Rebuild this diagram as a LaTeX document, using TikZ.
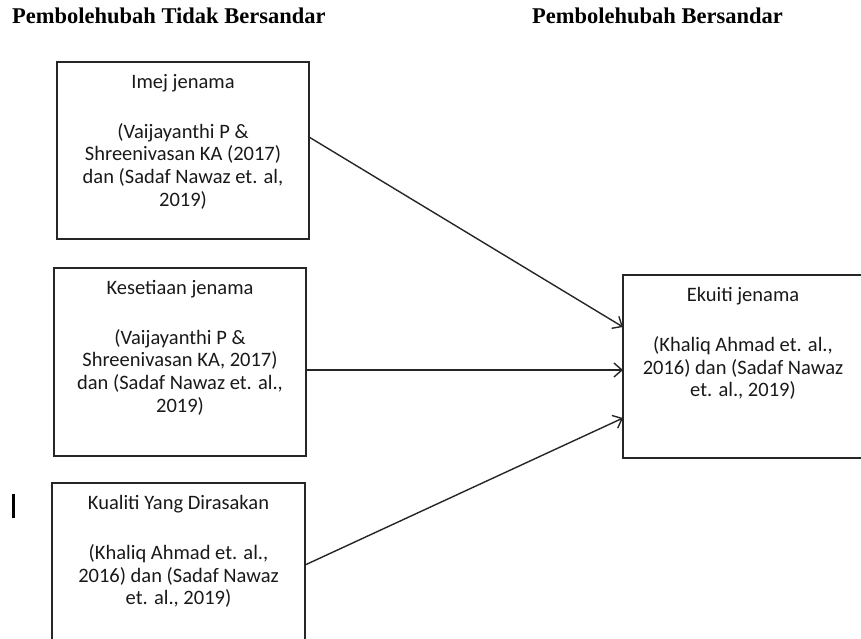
\documentclass[tikz,border=0pt]{standalone}
\usepackage{fontspec}
\setmainfont{Carlito}
\newfontfamily\headfont{Liberation Serif}
\usepackage{tikz}
\usetikzlibrary{arrows.meta,positioning}

\begin{document}
\begin{tikzpicture}[
    x=1pt, y=-1pt,
    box/.style={rectangle, draw=black!85, line width=1.6pt, outer sep=0pt, inner sep=0pt},
    boxtext/.style={align=center, inner sep=0pt, text=black!90, font=\fontsize{20.5}{22.8}\selectfont},
    heading/.style={anchor=base west, inner sep=0pt, font=\headfont\bfseries\fontsize{22.5}{26}\selectfont},
    arrow/.style={-{Straight Barb[length=8pt,width=14pt]}, draw=black!85, line width=1.4pt}
]
\useasboundingbox (0,0) rectangle (861,638);

\node[heading] (bebas) at (12,23) {Pembolehubah Tidak Bersandar};
\node[heading] (bersandar) at (532,23) {Pembolehubah Bersandar};

\node[box, minimum width=252pt, minimum height=177pt, anchor=north west] (imej) at (57,62) {};
\node[box, minimum width=252pt, minimum height=188pt, below=29pt of imej, xshift=-3pt] (kesetiaan) {};
\node[box, minimum width=253pt, minimum height=158pt, below=27pt of kesetiaan, xshift=-1.5pt] (kualiti) {};
\node[box, minimum width=240pt, minimum height=183pt, anchor=north west] (ekuiti) at (623,275) {};

\node[boxtext, below=12pt of imej.north] (imejtext) {Imej jenama\\[27pt](Vaijayanthi P \&\\Shreenivasan KA (2017)\\dan (Sadaf Nawaz et. al,\\2019)};
\node[boxtext, below=12pt of kesetiaan.north] (kesetiaantext) {Kesetiaan jenama\\[27pt](Vaijayanthi P \&\\Shreenivasan KA, 2017)\\dan (Sadaf Nawaz et. al.,\\2019)};
\node[boxtext, below=12pt of kualiti.north] (kualititext) {Kualiti Yang Dirasakan\\[27pt](Khaliq Ahmad et. al.,\\2016) dan (Sadaf Nawaz\\et. al., 2019)};
\node[boxtext, below=12pt of ekuiti.north] (ekuititext) {Ekuiti jenama\\[27pt](Khaliq Ahmad et. al.,\\2016) dan (Sadaf Nawaz\\et. al., 2019)};

\node[fill=black, minimum width=3pt, minimum height=24pt, inner sep=0pt] (kursor) at (13.5,506) {};

\draw[arrow] ([yshift=13.5pt]imej.east) -- ([yshift=39.5pt]ekuiti.west);
\draw[arrow] ([yshift=-8pt]kesetiaan.east) -- ([yshift=-3.5pt]ekuiti.west);
\draw[arrow] ([yshift=-3pt]kualiti.east) -- ([yshift=-51.5pt]ekuiti.west);
\end{tikzpicture}
\end{document}
